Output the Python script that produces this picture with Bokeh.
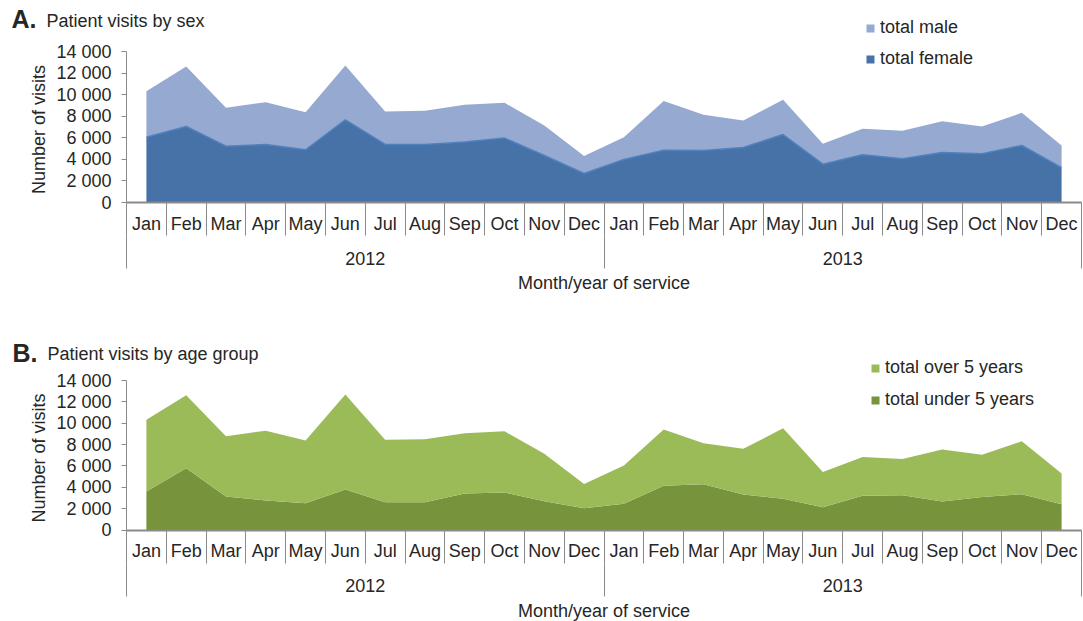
import numpy as np
from bokeh.plotting import figure
from bokeh.models import (ColumnDataSource, FixedTicker, LinearAxis, Range1d,
                          Legend, LegendItem, Label)
from bokeh.layouts import column
from bokeh.embed import file_html
from bokeh.resources import INLINE

# ---------------- data ----------------
months = ["Jan", "Feb", "Mar", "Apr", "May", "Jun",
          "Jul", "Aug", "Sep", "Oct", "Nov", "Dec"] * 2
years = ["2012", "2013"]

total_visits = [10320, 12610, 8780, 9300, 8370, 12700, 8440, 8500, 9060, 9240, 7140, 4300,
                6050, 9400, 8130, 7600, 9520, 5440, 6830, 6650, 7540, 7050, 8310, 5290]
total_female = [6050, 7050, 5220, 5380, 4890, 7670, 5380, 5380, 5620, 5970, 4360, 2690,
                3990, 4850, 4820, 5100, 6300, 3550, 4420, 4050, 4640, 4510, 5290, 3220]
total_male = [t - f for t, f in zip(total_visits, total_female)]

total_under5 = [3600, 5790, 3140, 2760, 2510, 3790, 2610, 2610, 3420, 3510, 2700, 2040,
                2450, 4140, 4290, 3320, 2920, 2140, 3200, 3260, 2670, 3100, 3350, 2420]
total_over5 = [t - u for t, u in zip(total_visits, total_under5)]

y_ticks = list(range(0, 14001, 2000))
Y_MAX = 14000

FONT = "Liberation Sans"
TXT = "#262626"
AX = "#8a8a8a"
W = 1083
X_LEFT_PX, X_RIGHT_PX = 126, 1081     # pixel position of the category axis ends


def make_panel(letter, title, lower, upper, lower_name, upper_name, colors, edge,
               height, top_px, zero_px, legend_x, legend_rows, title_px):
    n = len(months)
    x = np.arange(n) + 0.5
    src = ColumnDataSource(dict(x=x, lower=lower, upper=upper))

    # ranges chosen so that the frame covers the whole canvas
    sx = (X_RIGHT_PX - X_LEFT_PX) / n
    sy = (zero_px - top_px) / Y_MAX
    xr = Range1d(-X_LEFT_PX / sx, n + (W - X_RIGHT_PX) / sx)
    yr = Range1d(-(height - zero_px) / sy, Y_MAX + top_px / sy)

    p = figure(width=W, height=height, x_range=xr, y_range=yr,
               x_axis_type=None, y_axis_type=None, output_backend="svg",
               toolbar_location=None, min_border=0)
    p.outline_line_color = None
    p.xgrid.visible = False
    p.ygrid.visible = False

    rs = p.varea_stack(["lower", "upper"], x="x", source=src, color=colors)
    if edge:
        p.line("x", "lower", source=src, color=edge, line_width=1.5)

    # y axis
    ya = LinearAxis(
        fixed_location=0, bounds=(0, Y_MAX),
        ticker=FixedTicker(ticks=y_ticks, minor_ticks=[]),
        major_label_overrides={t: f"{t:,}".replace(",", " ") for t in y_ticks},
        major_tick_out=5, major_tick_in=0, axis_line_color=AX, major_tick_line_color=AX,
        major_label_text_font=FONT, major_label_text_font_size="18px",
        major_label_text_color=TXT, major_label_standoff=10,
        axis_label="Number  of visits", axis_label_text_font=FONT,
        axis_label_text_font_size="18px", axis_label_text_font_style="normal",
        axis_label_text_color=TXT, axis_label_standoff=4)
    p.add_layout(ya, "left")

    # month axis (separators drawn as minor ticks)
    ax_m = LinearAxis(
        fixed_location=0, bounds=(0, n),
        ticker=FixedTicker(ticks=list(x), minor_ticks=list(range(n + 1))),
        major_label_overrides={float(xi): m for xi, m in zip(x, months)},
        major_tick_out=0, major_tick_in=0, minor_tick_out=33, minor_tick_in=0,
        axis_line_color=AX, axis_line_width=2, minor_tick_line_color=AX,
        major_label_standoff=-22, major_label_text_font=FONT,
        major_label_text_font_size="18px", major_label_text_color=TXT)
    p.add_layout(ax_m, "below")

    # year axis
    per = n // len(years)
    ax_y = LinearAxis(
        fixed_location=-33 / sy, bounds=(0, n),
        ticker=FixedTicker(ticks=[per * i + per / 2 for i in range(len(years))],
                           minor_ticks=[per * i for i in range(len(years) + 1)]),
        major_label_overrides={per * i + per / 2: y for i, y in enumerate(years)},
        major_tick_out=0, major_tick_in=0, minor_tick_out=33, minor_tick_in=0,
        axis_line_alpha=0, minor_tick_line_color=AX,
        major_label_standoff=-17, major_label_text_font=FONT,
        major_label_text_font_size="18px", major_label_text_color=TXT,
        axis_label="Month/year of service", axis_label_text_font=FONT,
        axis_label_text_font_size="18px", axis_label_text_font_style="normal",
        axis_label_text_color=TXT, axis_label_standoff=5)
    p.add_layout(ax_y, "below")

    row1, row2 = legend_rows
    legend = Legend(items=[LegendItem(label=upper_name, renderers=[rs[1]]),
                           LegendItem(label=lower_name, renderers=[rs[0]])],
                    location=(legend_x, height - (row2 + 10)),
                    glyph_width=10, glyph_height=10, label_height=20,
                    spacing=(row2 - row1) - 20, padding=0, margin=0,
                    border_line_alpha=0, background_fill_alpha=0, label_standoff=5,
                    label_text_font=FONT, label_text_font_size="18px",
                    label_text_color=TXT)
    p.add_layout(legend, "center")

    (lx, ly), (tx, ty) = title_px
    p.add_layout(Label(x=lx, y=height - ly, x_units="screen", y_units="screen", text=letter,
                       text_font=FONT, text_font_style="bold", text_font_size="25px",
                       text_baseline="middle", text_color=TXT))
    p.add_layout(Label(x=tx, y=height - ty, x_units="screen", y_units="screen", text=title,
                       text_font=FONT, text_font_size="18px",
                       text_baseline="middle", text_color=TXT))
    return p


pa = make_panel("A.", "Patient visits by sex", total_female, total_male,
                "total female", "total male", ["#4672A7", "#95A9D1"], "#4F81BD",
                height=328, top_px=51, zero_px=202, legend_x=865, legend_rows=(29, 59),
                title_px=((11, 18), (46, 20)))
pb = make_panel("B.", "Patient visits by age group", total_under5, total_over5,
                "total under 5 years", "total over 5 years", ["#77933C", "#9BBB59"], None,
                height=293, top_px=52, zero_px=201.5, legend_x=870, legend_rows=(41, 72),
                title_px=((12, 24), (47, 25)))

layout = column(pa, pb)
open("out.html", "w").write(file_html(layout, INLINE))
